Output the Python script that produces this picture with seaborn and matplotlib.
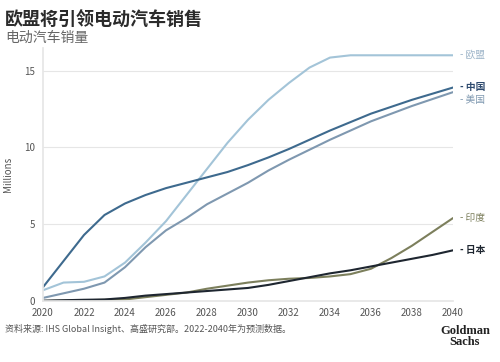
import pandas as pd
import matplotlib
matplotlib.use('Agg')
import matplotlib.pyplot as plt
import seaborn as sns

years = list(range(2020, 2041))
europe = [0.7, 1.2, 1.25, 1.6, 2.5, 3.8, 5.2, 6.9, 8.6, 10.3, 11.8, 13.1, 14.2, 15.2,
          15.85, 16.0, 16.0, 16.0, 16.0, 16.0, 16.0]
china = [0.9, 2.6, 4.3, 5.6, 6.35, 6.9, 7.35, 7.7, 8.05, 8.4, 8.85, 9.35, 9.9, 10.5,
         11.1, 11.65, 12.2, 12.65, 13.1, 13.5, 13.9]
usa = [0.2, 0.5, 0.8, 1.2, 2.2, 3.5, 4.6, 5.4, 6.3, 7.0, 7.7, 8.5, 9.2, 9.85,
       10.5, 11.1, 11.7, 12.2, 12.7, 13.15, 13.6]
india = [0.0, 0.03, 0.05, 0.08, 0.1, 0.25, 0.4, 0.55, 0.8, 1.0, 1.2, 1.35, 1.45, 1.5,
         1.6, 1.75, 2.1, 2.8, 3.6, 4.5, 5.4]
japan = [0.02, 0.05, 0.08, 0.1, 0.2, 0.35, 0.45, 0.55, 0.65, 0.75, 0.85, 1.05, 1.3, 1.55,
         1.8, 2.0, 2.25, 2.5, 2.75, 3.0, 3.3]

names = ['欧盟', '中国', '美国', '印度', '日本']
colours = ['#a3c4d8', '#3e6a8e', '#7f98b0', '#7c7f5c', '#1e2630']
label_colours = ['#9db4c8', '#2e4a6e', '#7f98b0', '#7c7f5c', '#1e2630']

df = pd.DataFrame({'year': years, '欧盟': europe, '中国': china, '美国': usa,
                   '印度': india, '日本': japan})
long = df.melt(id_vars='year', var_name='region', value_name='sales')

sns.set_theme(style='white')
plt.rcParams['font.family'] = ['Noto Sans CJK SC', 'DejaVu Sans']

fig = plt.figure(figsize=(5, 3.62), dpi=100)
ax = fig.add_axes([0.086, 0.1685, 0.82, 0.70])

sns.lineplot(data=long, x='year', y='sales', hue='region', hue_order=names,
             palette=colours, linewidth=1.5, legend=False, ax=ax)

ax.set_xlim(2020, 2040)
ax.set_ylim(0, 16.5)
ax.set_xticks(range(2020, 2041, 2))
ax.set_yticks([0, 5, 10, 15])
ax.tick_params(axis='x', labelsize=7, colors='#555555', length=0, pad=5)
ax.tick_params(axis='y', labelsize=7, colors='#555555', length=0, pad=6)
ax.set_xlabel('')
ax.set_ylabel('Millions', fontsize=7, color='#555555', labelpad=8)
ax.grid(axis='y', color='#e6e6e6', linewidth=0.8)
for s in ['top', 'right']:
    ax.spines[s].set_visible(False)
ax.spines['left'].set_color('#e6e6e6')
ax.spines['bottom'].set_color('#e6e6e6')

# end labels
ends = [16.0, 13.95, 13.1, 5.4, 3.3]
for name, col, yv in zip(names, label_colours, ends):
    w = 'bold' if name in ('中国', '日本') else 'normal'
    ax.annotate('- ' + name, xy=(2040, yv), xytext=(5, 0), textcoords='offset points',
                fontsize=7, color=col, va='center', ha='left', fontweight=w,
                annotation_clip=False)

fig.text(0.01, 0.945, '欧盟将引领电动汽车销售', fontsize=13, fontweight='bold',
         color='#2b2b2b', ha='left', va='center')
fig.text(0.01, 0.895, '电动汽车销量', fontsize=10, color='#666666', ha='left', va='center')
fig.text(0.01, 0.09, '资料来源: IHS Global Insight、高盛研究部。2022-2040年为预测数据。',
         fontsize=6.5, color='#555555', ha='left', va='center')
fig.text(0.93, 0.07, 'Goldman\nSachs', fontsize=9, fontweight='bold', color='#222222',
         family='Liberation Serif', ha='center', va='center', linespacing=0.9)

fig.savefig('out.png', dpi=100)
